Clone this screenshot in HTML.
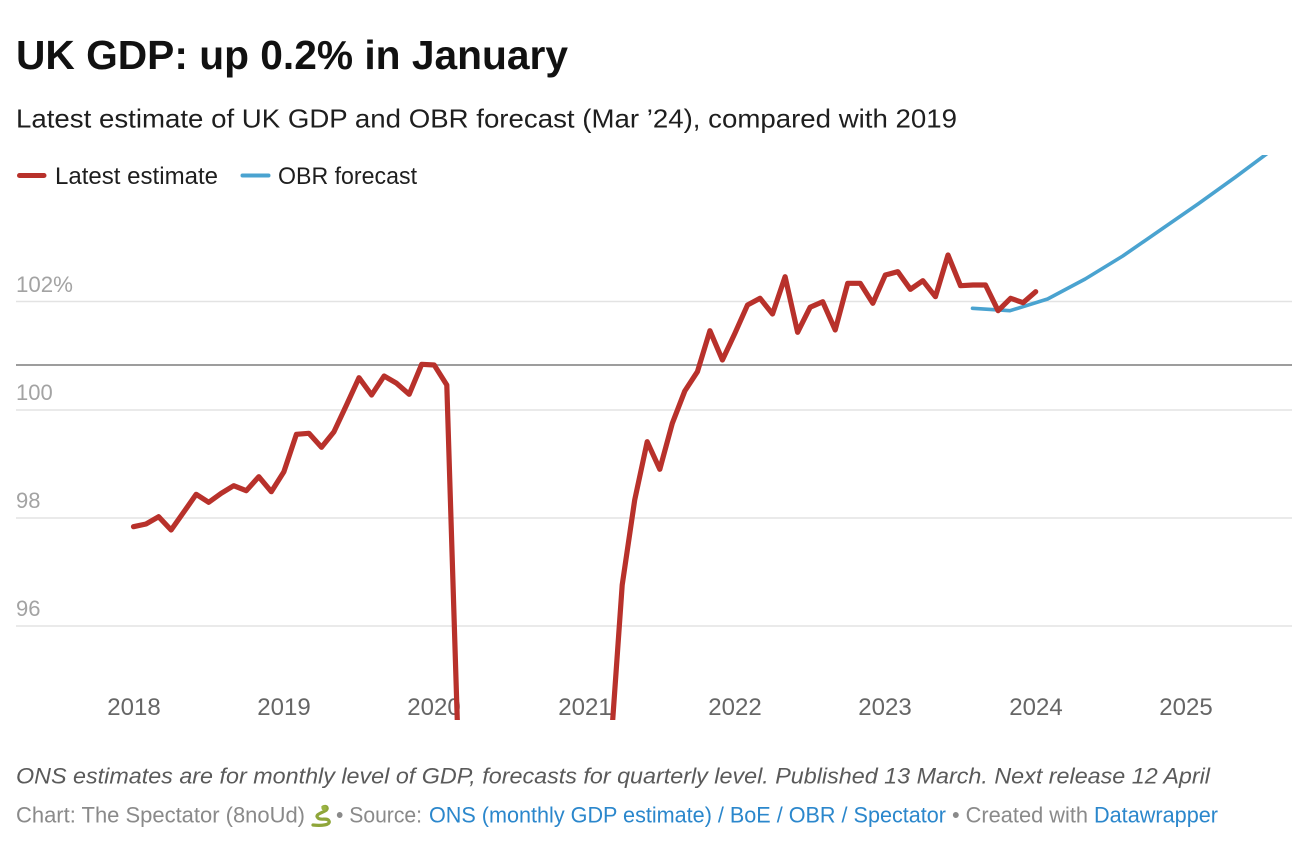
<!DOCTYPE html>
<html>
<head>
<meta charset="utf-8">
<style>
  html, body { margin:0; padding:0; background:#fff; width:1306px; height:864px; overflow:hidden; }
  svg { display:block; overflow:hidden; }
  text { font-family: "Liberation Sans", Arial, sans-serif; }
</style>
</head>
<body>
<svg width="1306" height="864" viewBox="0 0 1306 864" xmlns="http://www.w3.org/2000/svg">
  <defs>
    <clipPath id="plot">
      <rect x="0" y="155" width="1306" height="565"/>
    </clipPath>
  </defs>

  <!-- Title / subtitle -->
  <text x="16" y="69" font-size="41" font-weight="bold" fill="#111" textLength="552" lengthAdjust="spacingAndGlyphs">UK GDP: up 0.2% in January</text>
  <text x="16" y="127.5" font-size="26" fill="#1e1e1e" textLength="941" lengthAdjust="spacingAndGlyphs">Latest estimate of UK GDP and OBR forecast (Mar ’24), compared with 2019</text>

  <!-- Legend -->
  <line x1="19.5" y1="175.5" x2="44" y2="175.5" stroke="#b8312b" stroke-width="5" stroke-linecap="round"/>
  <text x="55" y="184" font-size="24" fill="#1e1e1e" textLength="163" lengthAdjust="spacingAndGlyphs">Latest estimate</text>
  <line x1="242.5" y1="175.5" x2="268.5" y2="175.5" stroke="#4aa3d0" stroke-width="4" stroke-linecap="round"/>
  <text x="278" y="184" font-size="24" fill="#1e1e1e" textLength="139" lengthAdjust="spacingAndGlyphs">OBR forecast</text>

  <!-- Gridlines -->
  <g stroke="#e3e3e3" stroke-width="1.5">
    <line x1="16" y1="301.5" x2="1292" y2="301.5"/>
    <line x1="16" y1="410" x2="1292" y2="410"/>
    <line x1="16" y1="518" x2="1292" y2="518"/>
    <line x1="16" y1="626" x2="1292" y2="626"/>
  </g>
  <line x1="16" y1="365" x2="1292" y2="365" stroke="#9d9d9d" stroke-width="2"/>

  <!-- Y labels -->
  <g font-size="22" fill="#a3a3a3">
    <text x="16" y="292" textLength="57" lengthAdjust="spacingAndGlyphs">102%</text>
    <text x="16" y="400">100</text>
    <text x="16" y="508">98</text>
    <text x="16" y="616">96</text>
  </g>

  <!-- X labels -->
  <g font-size="24" fill="#666" text-anchor="middle">
    <text x="134" y="715">2018</text>
    <text x="284" y="715">2019</text>
    <text x="434" y="715">2020</text>
    <text x="585" y="715">2021</text>
    <text x="735" y="715">2022</text>
    <text x="885" y="715">2023</text>
    <text x="1036" y="715">2024</text>
    <text x="1186" y="715">2025</text>
  </g>

  <g clip-path="url(#plot)">
    <!-- OBR forecast -->
    <polyline fill="none" stroke="#4aa3d0" stroke-width="3.6" stroke-linejoin="round" stroke-linecap="round"
      points="972.5,308.3 1010,310.7 1047.6,299 1085.2,279 1122.8,256 1160.4,230 1198,204 1235.6,177 1273.2,149"/>
    <!-- Latest estimate -->
    <polyline fill="none" stroke="#b8312b" stroke-width="5.2" stroke-linejoin="round" stroke-linecap="round"
      points="133.5,526.7 146,524 158.6,516.7 171.1,530 183.6,512.3 196.2,494.3 208.7,502.3 221.2,493.3 233.7,485.7 246.3,490.7 258.8,476.7 271.3,491.7
              283.9,471.7 296.4,434.3 308.9,433.3 321.5,447.3 334,431.7 346.5,405 359,377.7 371.6,395 384.1,376 396.6,383.3 409.2,394.3 421.7,364.3
              434.2,365 446.8,385 459.3,785 471.8,860 597.1,860 609.6,764
              622.2,585 634.7,500 647.2,441.7 659.8,469.3 672.3,423.3 684.8,391 697.4,371.7 709.9,330.7 722.4,360
              734.9,333.3 747.5,305 760,298.3 772.5,314 785.1,276.7 797.6,332.3 810.1,307.3 822.7,301.7 835.2,330 847.7,283.3 860.2,283.3 872.8,303.3
              885.3,275 897.8,271.7 910.4,289.3 922.9,280.7 935.4,296.7 948,255 960.5,285.7 973,285 985.5,285 998.1,310.7 1010.6,298.3 1023.1,302.7
              1035.7,291.7"/>
  </g>

  <!-- Notes -->
  <text x="16" y="783.5" font-size="22.5" font-style="italic" fill="#5a5a5a" textLength="1194" lengthAdjust="spacingAndGlyphs">ONS estimates are for monthly level of GDP, forecasts for quarterly level. Published 13 March. Next release 12 April</text>

  <g font-size="22">
    <text x="16" y="822.5" fill="#8a8a8a" textLength="289" lengthAdjust="spacingAndGlyphs">Chart: The Spectator (8noUd)</text>
    <!-- snake glyph substitute -->
    <g transform="translate(309,804)">
      <path d="M14,3 C18,1 20,5 16,7 C10,10 6,11 9,14 C12,17 18,13 20,17 C22,21 12,22 4,21" fill="none" stroke="#8fa63a" stroke-width="3.2" stroke-linecap="round"/>
      <circle cx="15" cy="4" r="2.6" fill="#9bb443"/>
    </g>
    <text x="336" y="822.5" fill="#8a8a8a" textLength="86" lengthAdjust="spacingAndGlyphs">• Source:</text>
    <text x="429" y="822.5" fill="#2b87cc" textLength="517" lengthAdjust="spacingAndGlyphs">ONS (monthly GDP estimate) / BoE / OBR / Spectator</text>
    <text x="952" y="822.5" fill="#8a8a8a" textLength="136" lengthAdjust="spacingAndGlyphs">• Created with</text>
    <text x="1094" y="822.5" fill="#2b87cc" textLength="124" lengthAdjust="spacingAndGlyphs">Datawrapper</text>
  </g>
</svg>
</body>
</html>
